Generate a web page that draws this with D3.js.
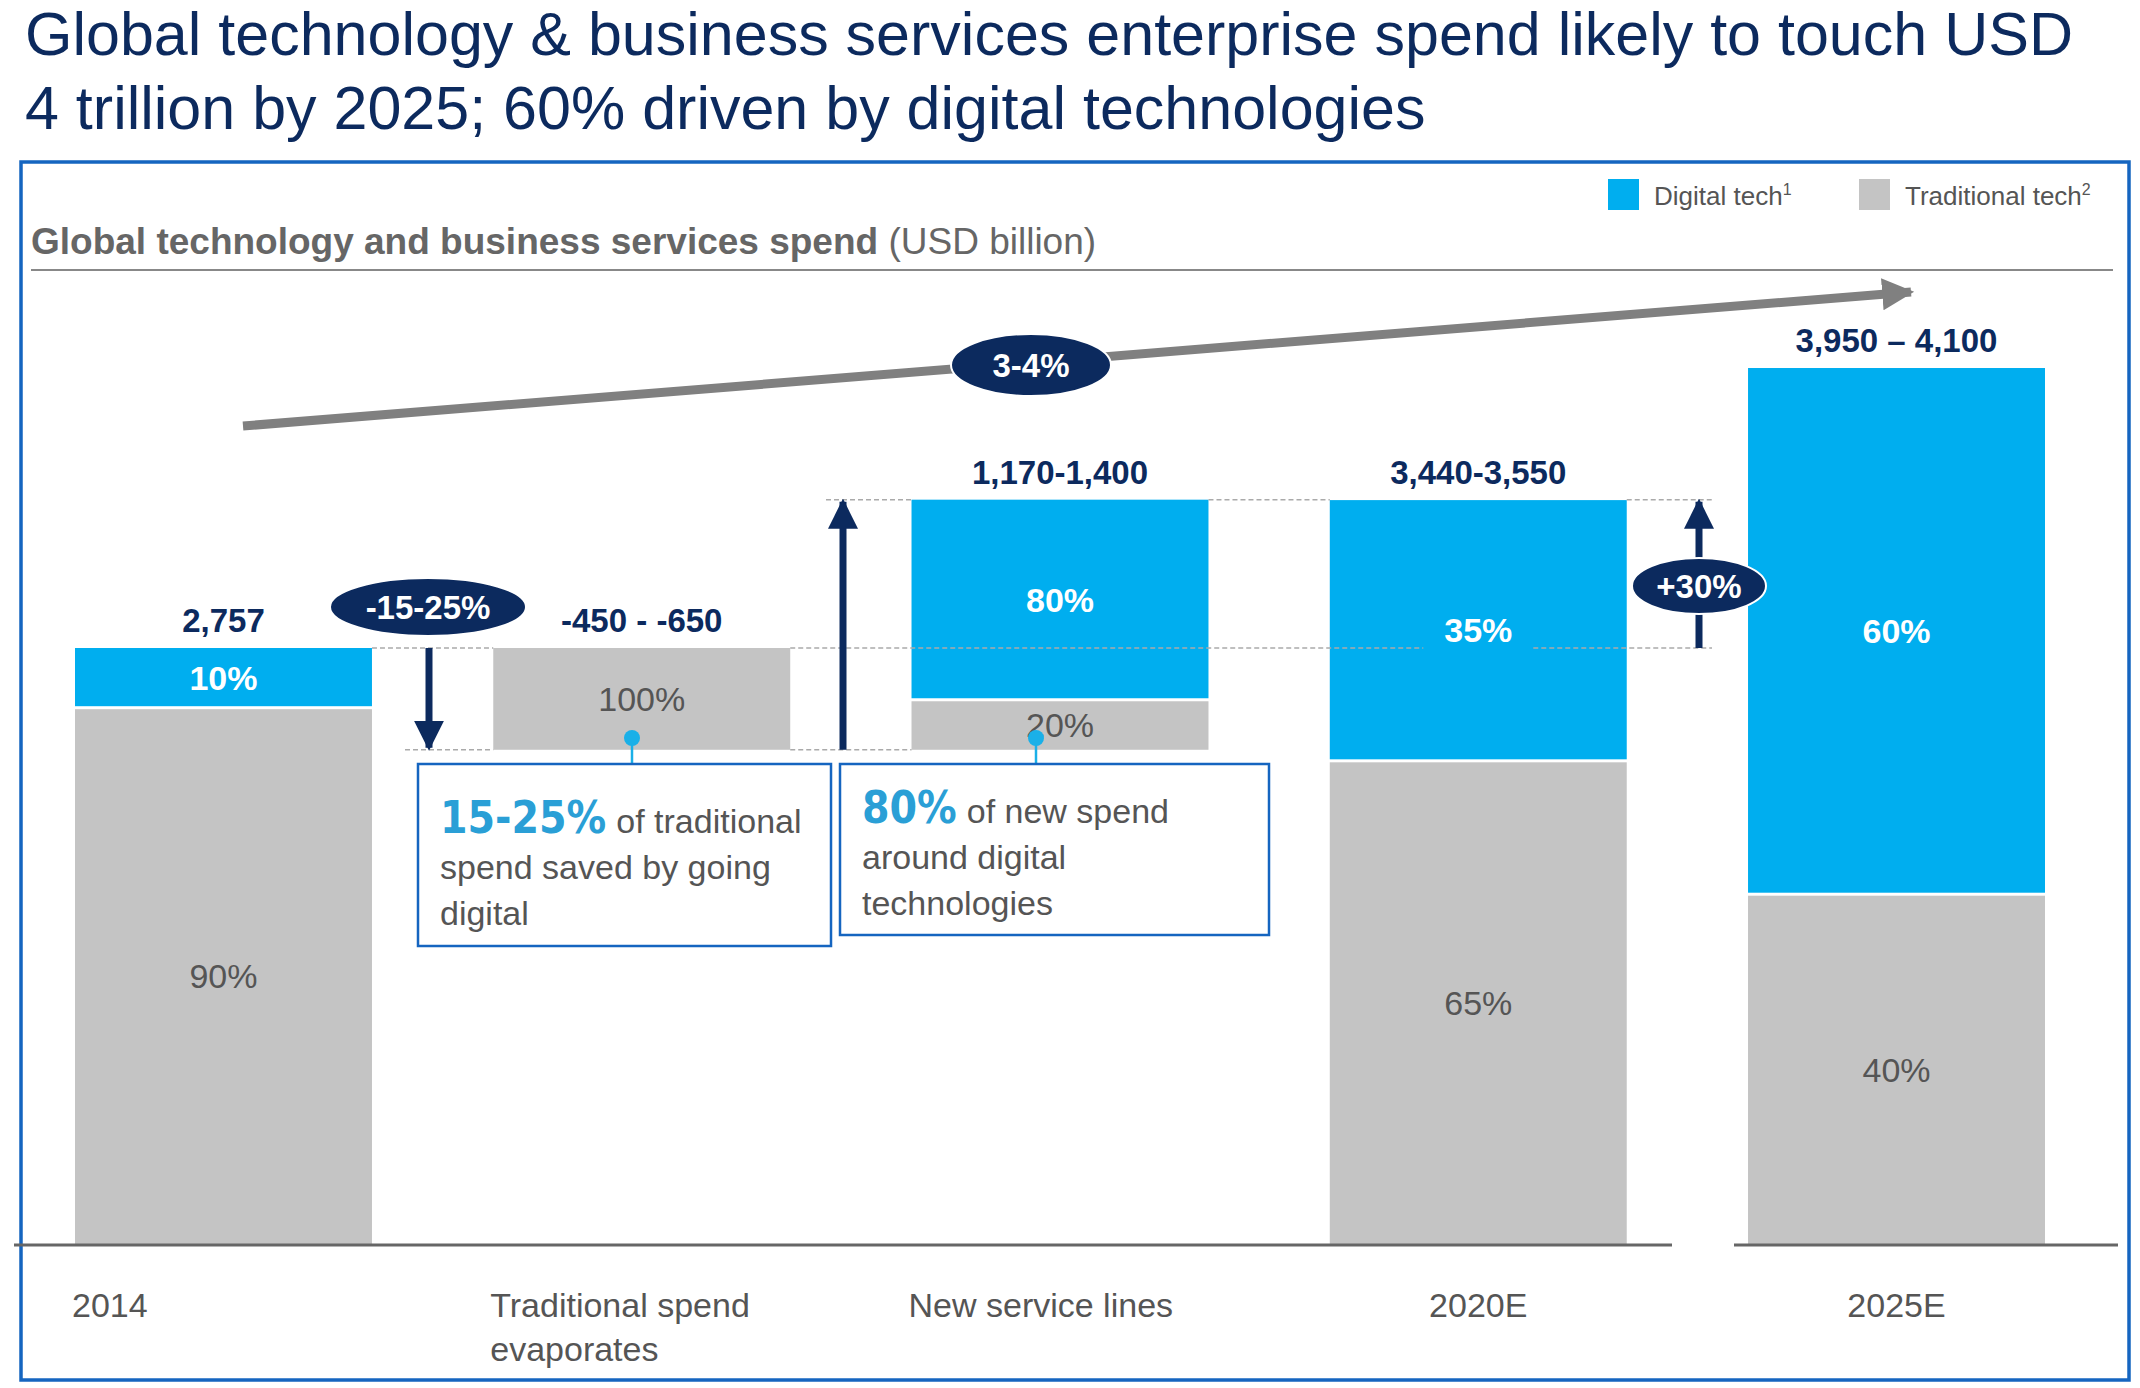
<!DOCTYPE html>
<html><head><meta charset="utf-8">
<script src="https://cdn.jsdelivr.net/npm/d3@7"></script>
<style>body{margin:0;background:#fff}svg{display:block}</style>
</head><body>
<script>
const categories = ["2014", "Traditional spend evaporates", "New service lines", "2020E", "2025E"];
const catLabels = [["2014"], ["Traditional spend", "evaporates"], ["New service lines"], ["2020E"], ["2025E"]];
const totals = [2757, -470, 1155, 3440, 4050];          // billions (bar height)
const bases  = [0, 2757, 2287, 0, 0];                     // floating bar starts
const digitalShare = [0.10, 0, 0.80, 0.35, 0.60];
const totalLabels = ["2,757", "-450 - -650", "1,170-1,400", "3,440-3,550", "3,950 – 4,100"];
const digitalLabels = ["10%", "", "80%", "35%", "60%"];
const tradLabels = ["90%", "100%", "20%", "65%", "40%"];
const seriesNames = ["Digital tech", "Traditional tech"];

const W = 2140, H = 1388;
const C = {blue:"#00AEEF", gray:"#C4C4C4", navy:"#0C2A5E", frame:"#1565C0"};
const SANS = "'Liberation Sans',Arial,sans-serif";
const COND = "'DejaVu Sans Condensed','Liberation Sans',sans-serif";

const svg = d3.select("body").append("svg").attr("width", W).attr("height", H);

const title = svg.append("text").attr("fill", "#0C2A5E").attr("font-family", SANS).attr("font-size", 61);
title.append("tspan").attr("x", 25).attr("y", 55).text("Global technology & business services enterprise spend likely to touch USD");
title.append("tspan").attr("x", 25).attr("y", 129).text("4 trillion by 2025; 60% driven by digital technologies");

svg.append("rect").attr("x", 21).attr("y", 162).attr("width", 2108).attr("height", 1218)
  .attr("fill", "none").attr("stroke", C.frame).attr("stroke-width", 3.5);

[[C.blue, 1608, seriesNames[0], "1"], [C.gray, 1859, seriesNames[1], "2"]].forEach(([c, x, t, s]) => {
  svg.append("rect").attr("x", x).attr("y", 179).attr("width", 31).attr("height", 31).attr("fill", c);
  const tx = svg.append("text").attr("x", x + 46).attr("y", 205).attr("font-family", SANS)
    .attr("font-size", 26).attr("fill", "#555").text(t);
  tx.append("tspan").attr("font-size", 16).attr("dy", -10).text(s);
});

const st = svg.append("text").attr("x", 31).attr("y", 254).attr("font-family", SANS).attr("font-size", 37).attr("fill", "#666");
st.append("tspan").attr("font-weight", "bold").text("Global technology and business services spend");
st.append("tspan").text(" (USD billion)");
svg.append("line").attr("x1", 31).attr("x2", 2113).attr("y1", 270).attr("y2", 270).attr("stroke", "#888").attr("stroke-width", 2);

const x = d3.scaleBand().domain(categories).range([75, 2045]).paddingInner(0.29).paddingOuter(0);
const y = d3.scaleLinear().domain([0, 2757]).range([1245, 648]);
const bw = x.bandwidth();

const rows = categories.map((c, i) => {
  const b = bases[i], t = totals[i];
  const lo = Math.min(b, b + t), hi = Math.max(b, b + t), h = hi - lo;
  return {c, i, lo, hi, split: hi - h * digitalShare[i]};
});

const dash = (x1, x2, yy) => svg.append("line").attr("x1", x1).attr("x2", x2).attr("y1", y(yy)).attr("y2", y(yy))
  .attr("stroke", "#aaa").attr("stroke-width", 1.5).attr("stroke-dasharray", "5,3");
const xr = c => x(c) + bw;

rows.forEach(r => {
  const x0 = x(r.c), d = digitalShare[r.i] ? 1.5 : 0;
  svg.append("rect").attr("x", x0).attr("width", bw).attr("y", y(r.split) + d)
    .attr("height", y(r.lo) - y(r.split) - d).attr("fill", C.gray);
  if (digitalShare[r.i]) svg.append("rect").attr("x", x0).attr("width", bw).attr("y", y(r.hi))
    .attr("height", y(r.split) - y(r.hi) - 1.5).attr("fill", C.blue);
});

dash(xr(categories[0]), x(categories[1]), 2757);
dash(405, x(categories[1]), 2287);
dash(xr(categories[1]), x(categories[2]), 2287);
dash(xr(categories[1]), x(categories[3]) + bw / 2 - 55, 2757);
dash(x(categories[3]) + bw / 2 + 55, 1712, 2757);
dash(826, x(categories[2]), 3442);
dash(xr(categories[2]), x(categories[3]), 3442);
dash(xr(categories[3]), 1712, 3442);

rows.forEach(r => {
  const cx = x(r.c) + bw / 2;
  if (digitalShare[r.i]) svg.append("text").attr("x", cx).attr("y", (y(r.hi) + y(r.split)) / 2 + 12)
    .attr("text-anchor", "middle").attr("font-family", SANS).attr("font-weight", "bold").attr("font-size", 34)
    .attr("fill", "#fff").text(digitalLabels[r.i]);
  svg.append("text").attr("x", cx).attr("y", (y(r.split) + y(r.lo)) / 2 + 12)
    .attr("text-anchor", "middle").attr("font-family", SANS).attr("font-size", 34)
    .attr("fill", "#555").text(tradLabels[r.i]);
  svg.append("text").attr("x", cx).attr("y", y(r.hi) - 16).attr("text-anchor", "middle")
    .attr("font-family", SANS).attr("font-weight", "bold").attr("font-size", 33).attr("fill", C.navy)
    .text(totalLabels[r.i]);
});

svg.append("line").attr("x1", 14).attr("x2", 1672).attr("y1", y(0)).attr("y2", y(0)).attr("stroke", "#666").attr("stroke-width", 3);
svg.append("line").attr("x1", 1734).attr("x2", 2118).attr("y1", y(0)).attr("y2", y(0)).attr("stroke", "#666").attr("stroke-width", 3);

catLabels.forEach((ls, i) => {
  const centered = i >= 3;
  const t = svg.append("text").attr("font-family", SANS).attr("font-size", 34).attr("fill", "#555")
    .attr("text-anchor", centered ? "middle" : "start");
  ls.forEach((l, k) => t.append("tspan").attr("x", centered ? x(categories[i]) + bw / 2 : x(categories[i]) - 3)
    .attr("y", 1317 + k * 44).text(l));
});

const defs = svg.append("defs");
const mk = (id, col, s) => defs.append("marker").attr("id", id).attr("viewBox", "0 0 10 10").attr("refX", 9).attr("refY", 5)
  .attr("markerWidth", s).attr("markerHeight", s).attr("orient", "auto").attr("markerUnits", "userSpaceOnUse")
  .append("path").attr("d", "M0,0L10,5L0,10z").attr("fill", col);
mk("nav", C.navy, 30); mk("gry", "#808080", 32);

const arrow = (x1, y1, x2, y2) => svg.append("line").attr("x1", x1).attr("y1", y1).attr("x2", x2).attr("y2", y2)
  .attr("stroke", C.navy).attr("stroke-width", 7).attr("marker-end", "url(#nav)");
arrow(429, y(2757), 429, y(2287) - 2);
arrow(843, y(2287), 843, y(3442) + 2);
arrow(1699, y(2757), 1699, y(3442) + 2);

svg.append("line").attr("x1", 243).attr("y1", 426).attr("x2", 1911).attr("y2", 292).attr("stroke", "#808080")
  .attr("stroke-width", 9).attr("marker-end", "url(#gry)");

const pill = (cx, cy, rx, ry, t) => {
  svg.append("ellipse").attr("cx", cx).attr("cy", cy).attr("rx", rx).attr("ry", ry).attr("fill", C.navy).attr("stroke", "#fff").attr("stroke-width", 2);
  svg.append("text").attr("x", cx).attr("y", cy + 12).attr("text-anchor", "middle").attr("font-family", SANS)
    .attr("font-weight", "bold").attr("font-size", 33).attr("fill", "#fff").text(t);
};
pill(428, 607, 98, 29, "-15-25%");
pill(1031, 365, 80, 31, "3-4%");
pill(1699, 586, 67, 28, "+30%");

const callout = (bx, by, bwid, bh, dotx, big, lines, y0) => {
  svg.append("line").attr("x1", dotx).attr("x2", dotx).attr("y1", 738).attr("y2", by).attr("stroke", "#1AB0E8").attr("stroke-width", 2.5);
  svg.append("circle").attr("cx", dotx).attr("cy", 738).attr("r", 8).attr("fill", "#1AB0E8");
  svg.append("rect").attr("x", bx).attr("y", by).attr("width", bwid).attr("height", bh).attr("fill", "#fff")
    .attr("stroke", C.frame).attr("stroke-width", 2.5);
  const b = svg.append("text").attr("x", bx + 22).attr("y", y0).attr("font-family", COND).attr("font-weight", "bold")
    .attr("font-size", 44).attr("fill", "#2A9FD6").text(big);
  const bwd = b.node().getComputedTextLength();
  lines.forEach((l, k) => {
    svg.append("text").attr("x", bx + 22 + (k === 0 ? bwd + 10 : 0)).attr("y", y0 + k * 46)
      .attr("font-family", SANS).attr("font-size", 34).attr("fill", "#555").text(l);
  });
};
callout(418, 764, 413, 182, 632, "15-25%", ["of traditional", "spend saved by going", "digital"], 833);
callout(840, 764, 429, 171, 1036, "80%", ["of new spend", "around digital", "technologies"], 823);
</script>
</body></html>
